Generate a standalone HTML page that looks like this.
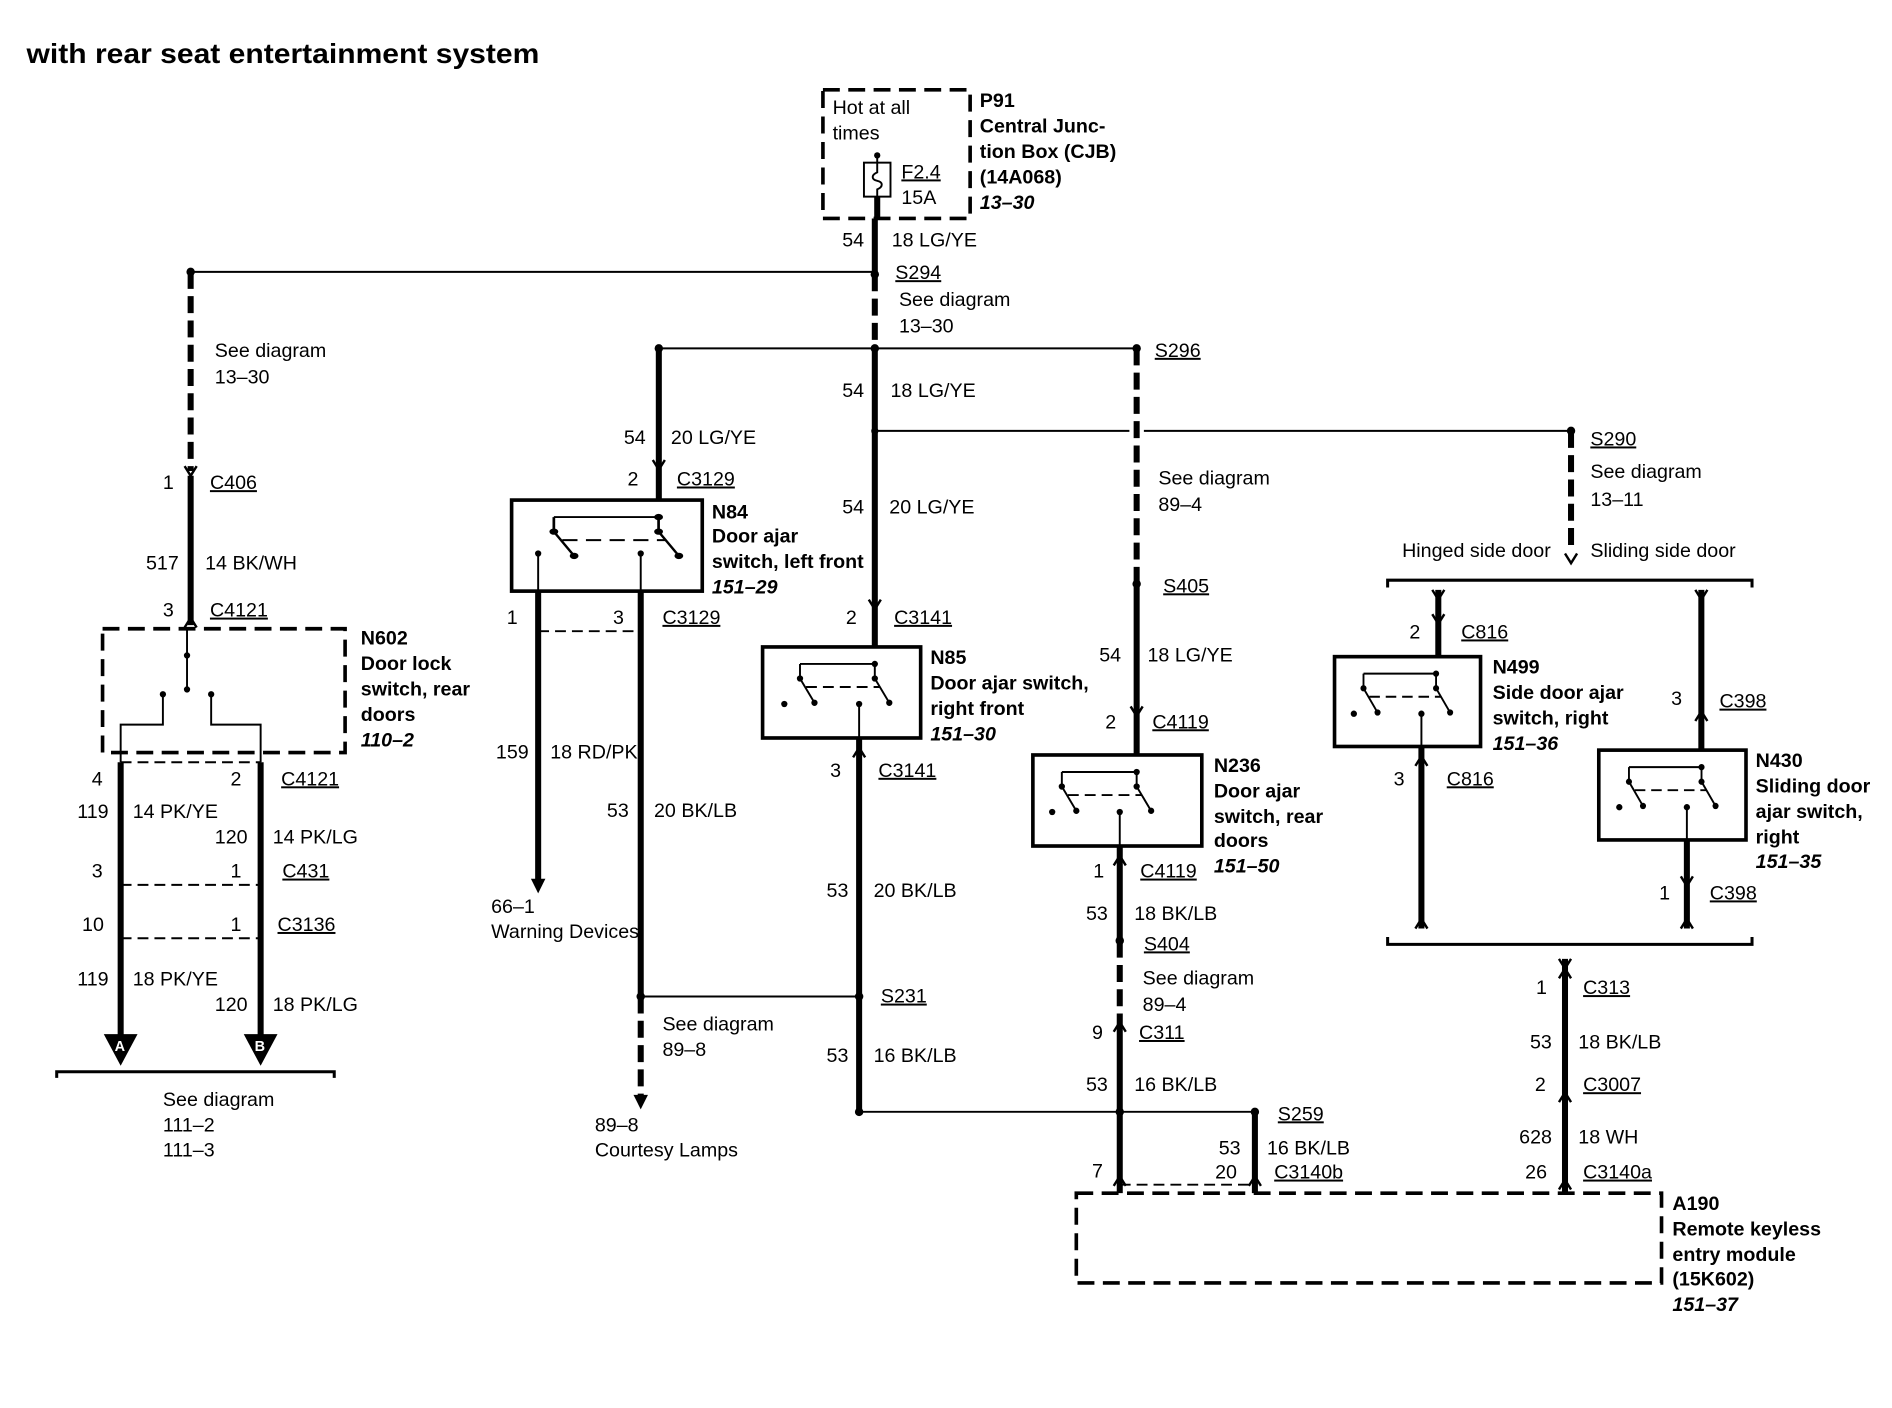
<!DOCTYPE html>
<html><head><meta charset="utf-8"><style>
html,body{margin:0;padding:0;background:#fff}
svg{display:block}
text{font-family:"Liberation Sans",Arial,sans-serif;font-size:16.3px;fill:#000}
.b{font-weight:bold}
.bi{font-weight:bold;font-style:italic}
.u{text-decoration:underline}
.w{stroke:#000;stroke-width:5;fill:none}
.t{stroke:#000;stroke-width:1.6;fill:none}
.d{stroke:#000;stroke-width:5;fill:none;stroke-dasharray:14 6}
.dt{stroke:#000;stroke-width:1.6;fill:none;stroke-dasharray:9 5}
.db{stroke:#000;stroke-width:3;fill:none;stroke-dasharray:14 7}
.bx{stroke:#000;stroke-width:3;fill:none}
</style></head><body>
<svg width="1892" height="1408" viewBox="0 0 1568 1160" preserveAspectRatio="none" xmlns="http://www.w3.org/2000/svg">
<defs>
<g id="sw">
<path class="t" d="M0 14H62M0 14V26L12 46M62 14V26L74 46"/>
<circle cx="0" cy="26" r="2.6"/><circle cx="12" cy="46" r="2.6"/><circle cx="62" cy="26" r="2.6"/><circle cx="74" cy="46" r="2.6"/><circle cx="62" cy="14" r="2.6"/>
<path class="dt" d="M5 33H66"/>
</g>
<g id="ar"><path d="M-5 -6L0 2L5 -6" stroke="#000" stroke-width="2" fill="none"/></g>
</defs>
<text x="22" y="52" class="b" style="font-size:23px" textLength="425" lengthAdjust="spacingAndGlyphs">with rear seat entertainment system</text>

<!-- P91 -->
<rect x="682" y="74" width="122" height="106" class="db"/>
<text x="690" y="94">Hot at all</text><text x="690" y="115">times</text>
<circle cx="727" cy="128" r="2.6"/><path class="t" d="M727 128V134"/>
<rect x="716" y="134" width="22" height="28" class="t"/>
<path class="t" d="M727 134V142C722 144 722 148 727 149C732 150 732 154 727 156V162"/>
<path class="w" d="M727 162V180"/>
<text x="747" y="147" class="u">F2.4</text><text x="747" y="168">15A</text>
<text x="812" y="88" class="b">P91</text><text x="812" y="109" class="b">Central Junc-</text><text x="812" y="130" class="b">tion Box (CJB)</text><text x="812" y="151" class="b">(14A068)</text><text x="812" y="172" class="bi">13–30</text>

<!-- main trunk -->
<path class="w" d="M725 180V226"/>
<text x="698" y="203">54</text><text x="739" y="203">18 LG/YE</text>
<path class="t" d="M158 224H725"/>
<circle cx="725" cy="226" r="3.5"/><circle cx="158" cy="224" r="3.5"/>
<path class="d" d="M725 226V287"/>
<text x="742" y="230" class="u">S294</text><text x="745" y="252">See diagram</text><text x="745" y="274">13–30</text>
<path class="w" d="M725 287V533"/>
<text x="698" y="327">54</text><text x="738" y="327">18 LG/YE</text>
<text x="698" y="423">54</text><text x="737" y="423">20 LG/YE</text>
<use href="#ar" x="725" y="500"/>
<text x="701" y="514">2</text><text x="741" y="514" class="u">C3141</text>

<!-- left branch -->
<path class="d" d="M158 224V388"/>
<text x="178" y="294">See diagram</text><text x="178" y="316">13–30</text>
<use href="#ar" x="158" y="390"/>
<text x="135" y="403">1</text><text x="174" y="403" class="u">C406</text>
<path class="w" d="M158 392V515"/>
<text x="121" y="469">517</text><text x="170" y="469">14 BK/WH</text>
<text x="135" y="508">3</text><text x="174" y="508" class="u">C4121</text>
<path d="M153 517L158 509L163 517" stroke="#000" stroke-width="2" fill="none"/>
<rect x="85" y="518" width="201" height="102" class="db"/>
<path class="t" d="M155 518V568M135 572V597H100V628M175 572V597H216V628"/>
<circle cx="155" cy="540" r="2.6"/><circle cx="155" cy="568" r="2.6"/><circle cx="135" cy="572" r="2.6"/><circle cx="175" cy="572" r="2.6"/>
<text x="299" y="531" class="b">N602</text><text x="299" y="552" class="b">Door lock</text><text x="299" y="573" class="b">switch, rear</text><text x="299" y="594" class="b">doors</text><text x="299" y="615" class="bi">110–2</text>
<path class="w" d="M100 628V860M216 628V860"/>
<path class="dt" d="M100 628H216M100 729H216M100 773H216"/>
<text x="76" y="647">4</text><text x="191" y="647">2</text><text x="233" y="647" class="u">C4121</text>
<text x="64" y="674">119</text><text x="110" y="674">14 PK/YE</text>
<text x="178" y="695">120</text><text x="226" y="695">14 PK/LG</text>
<text x="76" y="723">3</text><text x="191" y="723">1</text><text x="234" y="723" class="u">C431</text>
<text x="68" y="767">10</text><text x="191" y="767">1</text><text x="230" y="767" class="u">C3136</text>
<text x="64" y="812">119</text><text x="110" y="812">18 PK/YE</text>
<text x="178" y="833">120</text><text x="226" y="833">18 PK/LG</text>
<path d="M86 852H114L100 878Z"/><path d="M202 852H230L216 878Z"/>
<text x="95" y="866" style="fill:#fff;font-size:12px" class="b">A</text>
<text x="211" y="866" style="fill:#fff;font-size:12px" class="b">B</text>
<path d="M47 888V883H277V888" stroke="#000" stroke-width="2.5" fill="none"/>
<text x="135" y="911">See diagram</text><text x="135" y="932">111–2</text><text x="135" y="953">111–3</text>

<!-- N84 branch -->
<path class="t" d="M546 287H942"/>
<circle cx="546" cy="287" r="3.5"/><circle cx="725" cy="287" r="3.5"/><circle cx="942" cy="287" r="3.5"/>
<path class="w" d="M546 287V412"/>
<text x="517" y="366">54</text><text x="556" y="366">20 LG/YE</text>
<use href="#ar" x="546" y="385"/>
<text x="520" y="400">2</text><text x="561" y="400" class="u">C3129</text>
<rect x="424" y="412" width="158" height="75" class="bx"/>
<use href="#sw" transform="translate(459,412) scale(1.4,1)"/>
<path class="t" d="M446 487V456M531 487V456"/><circle cx="446" cy="456" r="2.6"/><circle cx="531" cy="456" r="2.6"/>
<text x="590" y="427" class="b">N84</text><text x="590" y="447" class="b">Door ajar</text><text x="590" y="468" class="b">switch, left front</text><text x="590" y="489" class="bi">151–29</text>
<path class="w" d="M446 487V728M531 487V821"/>
<path class="dt" d="M446 520H531"/>
<text x="420" y="514">1</text><text x="508" y="514">3</text><text x="549" y="514" class="u">C3129</text>
<path d="M440 724H452L446 736Z"/>
<text x="411" y="625">159</text><text x="456" y="625">18 RD/PK</text>
<text x="407" y="752">66–1</text><text x="407" y="773">Warning Devices</text>
<text x="503" y="673">53</text><text x="542" y="673">20 BK/LB</text>
<path class="t" d="M531 821H712"/><circle cx="531" cy="821" r="3.5"/>
<path class="d" d="M531 821V905"/><path d="M525 902H537L531 914Z"/>
<text x="549" y="849">See diagram</text><text x="549" y="870">89–8</text>
<text x="493" y="932">89–8</text><text x="493" y="953">Courtesy Lamps</text>

<!-- N85 -->
<rect x="632" y="533" width="131" height="75" class="bx"/>
<use href="#sw" transform="translate(663,533)"/>
<circle cx="650" cy="580" r="2.6"/><circle cx="712" cy="580" r="2.6"/><path class="t" d="M712 580V608"/>
<text x="771" y="547" class="b">N85</text><text x="771" y="568" class="b">Door ajar switch,</text><text x="771" y="589" class="b">right front</text><text x="771" y="610" class="bi">151–30</text>
<path class="w" d="M712 608V914"/>
<path d="M707 624L712 616L717 624" stroke="#000" stroke-width="2" fill="none"/>
<text x="688" y="640">3</text><text x="728" y="640" class="u">C3141</text>
<text x="685" y="739">53</text><text x="724" y="739">20 BK/LB</text>
<circle cx="712" cy="821" r="3.5"/><text x="730" y="826" class="u">S231</text>
<text x="685" y="875">53</text><text x="724" y="875">16 BK/LB</text>
<circle cx="712" cy="916" r="3.5"/>
<path class="t" d="M712 916H1040"/>

<!-- S296 branch / N236 -->
<path class="t" d="M725 355H936M948 355H1302"/><circle cx="725" cy="355" r="3"/>
<path class="d" d="M942 287V481"/>
<text x="957" y="294" class="u">S296</text>
<text x="960" y="399">See diagram</text><text x="960" y="421">89–4</text>
<circle cx="942" cy="481" r="3.5"/><text x="964" y="488" class="u">S405</text>
<path class="w" d="M942 481V622"/>
<text x="911" y="545">54</text><text x="951" y="545">18 LG/YE</text>
<use href="#ar" x="942" y="588"/>
<text x="916" y="600">2</text><text x="955" y="600" class="u">C4119</text>
<rect x="856" y="622" width="140" height="75" class="bx"/>
<use href="#sw" transform="translate(880,622) scale(1.0,1)"/>
<circle cx="872" cy="669" r="2.6"/><circle cx="928" cy="669" r="2.6"/><path class="t" d="M928 669V697"/>
<text x="1006" y="636" class="b">N236</text><text x="1006" y="657" class="b">Door ajar</text><text x="1006" y="678" class="b">switch, rear</text><text x="1006" y="698" class="b">doors</text><text x="1006" y="719" class="bi">151–50</text>
<path class="w" d="M928 697V775"/>
<path d="M923 713L928 705L933 713" stroke="#000" stroke-width="2" fill="none"/>
<text x="906" y="723">1</text><text x="945" y="723" class="u">C4119</text>
<text x="900" y="758">53</text><text x="940" y="758">18 BK/LB</text>
<circle cx="928" cy="775" r="3.5"/><text x="948" y="783" class="u">S404</text>
<path class="d" d="M928 775V842"/>
<text x="947" y="811">See diagram</text><text x="947" y="833">89–4</text>
<path d="M923 850L928 842L933 850" stroke="#000" stroke-width="2" fill="none"/>
<text x="905" y="856">9</text><text x="944" y="856" class="u">C311</text>
<path class="w" d="M928 842V983"/>
<text x="900" y="899">53</text><text x="940" y="899">16 BK/LB</text>
<circle cx="928" cy="916" r="3.5"/><circle cx="1040" cy="916" r="3.5"/>
<text x="1059" y="923" class="u">S259</text>
<path class="w" d="M1040 916V983"/>
<path class="dt" d="M928 976H1040"/>
<path d="M923 977L928 969L933 977M1035 977L1040 969L1045 977" stroke="#000" stroke-width="2" fill="none"/>
<text x="1010" y="951">53</text><text x="1050" y="951">16 BK/LB</text>
<text x="1007" y="971">20</text><text x="1056" y="971" class="u">C3140b</text>
<text x="905" y="970">7</text>

<!-- A190 -->
<rect x="892" y="983" width="485" height="74" class="db"/>
<text x="1386" y="997" class="b">A190</text><text x="1386" y="1018" class="b">Remote keyless</text><text x="1386" y="1039" class="b">entry module</text><text x="1386" y="1059" class="b">(15K602)</text><text x="1386" y="1080" class="bi">151–37</text>

<!-- S290 branch -->
<circle cx="1302" cy="355" r="3.5"/>
<path class="d" d="M1302 355V452"/>
<use href="#ar" x="1302" y="462"/>
<text x="1318" y="367" class="u">S290</text><text x="1318" y="394">See diagram</text><text x="1318" y="417">13–11</text>
<text x="1162" y="459">Hinged side door</text><text x="1318" y="459">Sliding side door</text>
<path d="M1150 484V478H1452V484" stroke="#000" stroke-width="2.5" fill="none"/>
<path class="w" d="M1192 486V541"/>
<path d="M1187 486L1192 494L1197 486" stroke="#000" stroke-width="2" fill="none"/>
<use href="#ar" x="1192" y="512"/>
<text x="1168" y="526">2</text><text x="1211" y="526" class="u">C816</text>
<rect x="1106" y="541" width="121" height="74" class="bx"/>
<use href="#sw" transform="translate(1130,541) scale(0.97,1)"/>
<circle cx="1122" cy="588" r="2.6"/><circle cx="1178" cy="588" r="2.6"/><path class="t" d="M1178 588V615"/>
<text x="1237" y="555" class="b">N499</text><text x="1237" y="576" class="b">Side door ajar</text><text x="1237" y="597" class="b">switch, right</text><text x="1237" y="618" class="bi">151–36</text>
<path class="w" d="M1178 615V765"/>
<path d="M1173 631L1178 623L1183 631" stroke="#000" stroke-width="2" fill="none"/>
<text x="1155" y="647">3</text><text x="1199" y="647" class="u">C816</text>
<path class="w" d="M1410 486V618"/>
<path d="M1405 486L1410 494L1415 486M1405 594L1410 586L1415 594" stroke="#000" stroke-width="2" fill="none"/>
<text x="1385" y="581">3</text><text x="1425" y="583" class="u">C398</text>
<rect x="1325" y="618" width="122" height="74" class="bx"/>
<use href="#sw" transform="translate(1350,618) scale(0.97,1)"/>
<circle cx="1342" cy="665" r="2.6"/><circle cx="1398" cy="665" r="2.6"/><path class="t" d="M1398 665V692"/>
<text x="1455" y="632" class="b">N430</text><text x="1455" y="653" class="b">Sliding door</text><text x="1455" y="674" class="b">ajar switch,</text><text x="1455" y="695" class="b">right</text><text x="1455" y="715" class="bi">151–35</text>
<path class="w" d="M1398 692V765"/>
<use href="#ar" x="1398" y="728"/>
<text x="1375" y="741">1</text><text x="1417" y="741" class="u">C398</text>
<path d="M1173 765L1178 757L1183 765M1393 765L1398 757L1403 765" stroke="#000" stroke-width="2" fill="none"/>
<path d="M1150 772V778H1452V772" stroke="#000" stroke-width="2.5" fill="none"/>
<path class="w" d="M1297 790V983"/>
<path d="M1292 790L1297 798L1302 790M1292 806L1297 798L1302 806" stroke="#000" stroke-width="2" fill="none"/>
<text x="1273" y="819">1</text><text x="1312" y="819" class="u">C313</text>
<text x="1268" y="864">53</text><text x="1308" y="864">18 BK/LB</text>
<path d="M1292 908L1297 900L1302 908M1292 980L1297 972L1302 980" stroke="#000" stroke-width="2" fill="none"/>
<text x="1272" y="899">2</text><text x="1312" y="899" class="u">C3007</text>
<text x="1259" y="942">628</text><text x="1308" y="942">18 WH</text>
<text x="1264" y="971">26</text><text x="1312" y="971" class="u">C3140a</text>
</svg>
</body></html>
